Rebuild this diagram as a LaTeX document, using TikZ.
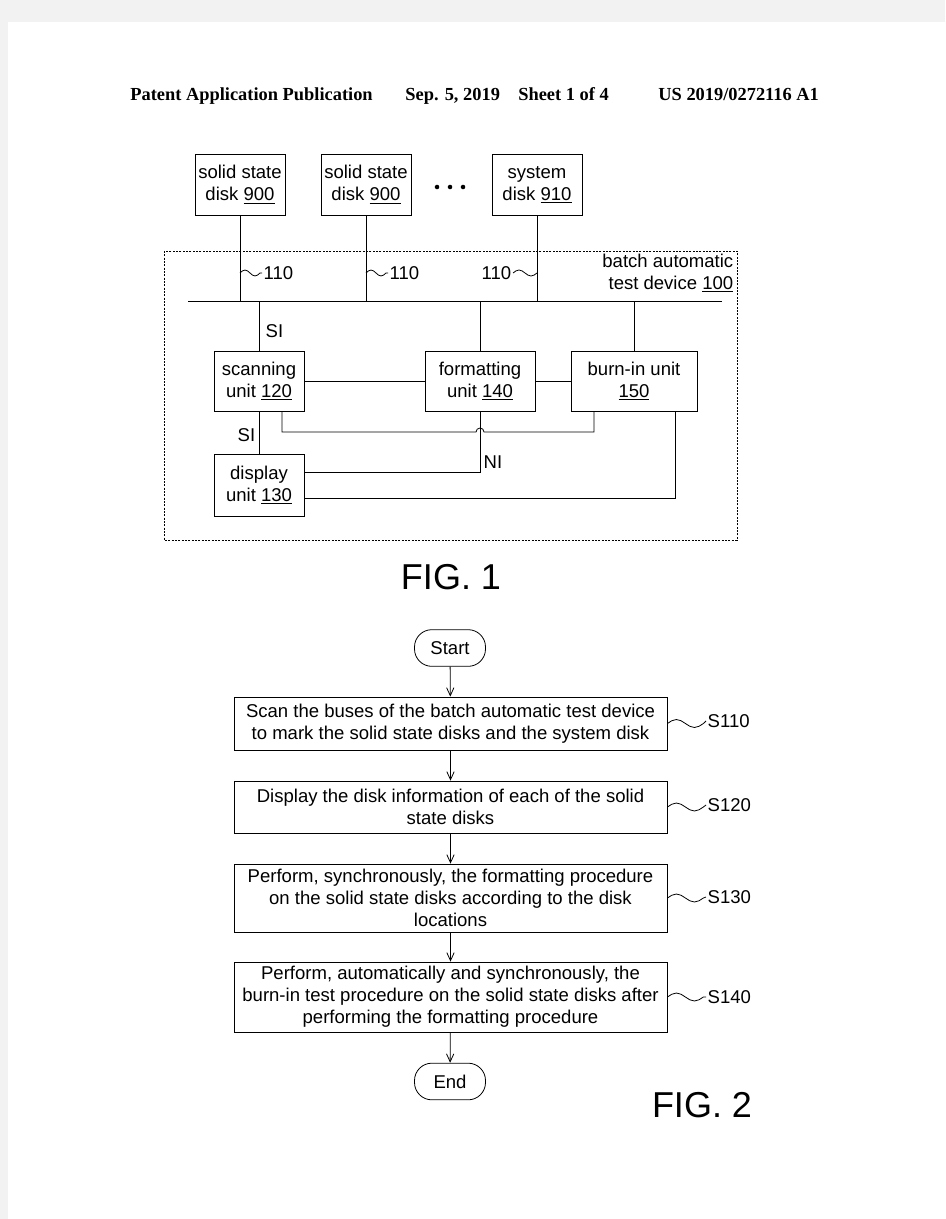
\documentclass[tikz,border=0pt]{standalone}
\usepackage{fontspec}
\setmainfont{Liberation Sans}
\newfontfamily\hdrfont{Liberation Serif}
\usetikzlibrary{arrows.meta}

\newcommand\boxfont{\fontsize{13.9}{16.5}\selectfont}
\newcommand\figfont{\fontsize{27}{30}\selectfont}

\begin{document}
\begin{tikzpicture}[x=0.75pt,y=-0.75pt,line width=0.6pt,
		box/.style={draw,align=center,inner sep=0pt,font=\boxfont},
		lbl/.style={inner sep=1pt,font=\boxfont},
		term/.style={box,rounded corners=13pt,minimum width=53.25pt,minimum height=27.5pt},
		stepbox/.style={box,minimum width=324.75pt},
		flow/.style={-{Straight Barb[length=6pt,width=5.5pt]}}
	]
	\useasboundingbox (0,0) rectangle (945,1219);
	\fill[white] (0,0) rectangle (945,1219);
	\fill[black!5] (0,0) rectangle (945,22);
	\fill[black!5] (0,0) rectangle (8,1219);
	
	% header
	\node [anchor=base west, inner sep=0pt, font=\hdrfont\bfseries\fontsize{13.8}{15}\selectfont] (hdrA) at (130,101) {Patent Application Publication};
	\node [anchor=base west, inner sep=0pt, font=\hdrfont\bfseries\fontsize{13.8}{15}\selectfont] (hdrB) at (405,101) {Sep. 5, 2019\quad Sheet 1 of 4};
	\node [anchor=base west, inner sep=0pt, font=\hdrfont\bfseries\fontsize{13.8}{15}\selectfont] (hdrC) at (658,101) {US 2019/0272116 A1};
	
	% FIG. 1
	\node [box, minimum width=67.5pt, minimum height=45.75pt] (ssdA) at (240,184.5) {solid state\\disk \underline{900}};
	\node [box, minimum width=67.5pt, minimum height=45.75pt] (ssdB) at (366,184.5) {solid state\\disk \underline{900}};
	\node [box, minimum width=67.5pt, minimum height=45.75pt] (sysdisk) at (537,184.5) {system\\disk \underline{910}};
	\fill (437,187) circle [radius=1.7pt];
	\fill (450,187) circle [radius=1.7pt];
	\fill (463,187) circle [radius=1.7pt];
	
	\draw [dash pattern=on 1.5pt off 1pt, line width=0.5pt] (164,251) rectangle (737,540);
	\node [lbl, anchor=east, align=right] (device) at (735,273) {batch automatic\\test device \underline{100}};
	
	\coordinate (busL) at (188,301);
	\coordinate (busR) at (722,301);
	\draw (busL) -- (busR);
	\draw (ssdA) -- (ssdA |- busL);
	\draw (ssdB) -- (ssdB |- busL);
	\draw (sysdisk) -- (sysdisk |- busL);
	
	\node [lbl, anchor=west] (busA) at (262,273) {110};
	\node [lbl, anchor=west] (busB) at (388,273) {110};
	\node [lbl, anchor=east] (busC) at (513,273) {110};
	\draw (ssdA |- busA) sin ++(5,-3) cos ++(5,3) sin ++(5,3) cos ++(5,-3) -- (busA.west);
	\draw (ssdB |- busB) sin ++(5,-3) cos ++(5,3) sin ++(5,3) cos ++(5,-3) -- (busB.west);
	\draw (busC.east) sin ++(6,-3) cos ++(6,3) sin ++(6,3) cos ++(6,-3) -- (sysdisk |- busC);
	
	\node [box, minimum width=67.5pt, minimum height=45pt] (scan) at (259,381) {scanning\\unit \underline{120}};
	\node [box, minimum width=82.5pt, minimum height=45pt] (fmt) at (480,381) {formatting\\unit \underline{140}};
	\node [box, minimum width=94.5pt, minimum height=45pt] (burn) at (634,381) {burn-in unit\\\underline{150}};
	\node [box, minimum width=67.5pt, minimum height=46.5pt] (disp) at (259,485) {display\\unit \underline{130}};
	
	\draw (scan) -- (scan |- busL);
	\draw (fmt) -- (fmt |- busL);
	\draw (burn) -- (burn |- busL);
	\draw (scan) -- (fmt);
	\draw (fmt) -- (burn);
	\draw (scan) -- (disp);
	\node [lbl, anchor=west] (siA) at (264,331) {SI};
	\node [lbl, anchor=west] (siB) at (236,435) {SI};
	
	\coordinate (hop) at (476,432);
	\draw ([xshift=17.25pt]scan.south) |- (hop) arc [start angle=180, end angle=0, radius=3pt] -| ([xshift=-30pt]burn.south);
	\draw (fmt.south) |- ([yshift=9.75pt]disp.east);
	\draw ([xshift=30.75pt]burn.south) |- ([yshift=-9.75pt]disp.east);
	\node [lbl, anchor=west] (ni) at (482,462) {NI};
	
	\node [font=\figfont] (figA) at (451,577) {FIG. 1};
	
	% FIG. 2
	\node [term] (start) at (450,648) {Start};
	\node [stepbox, minimum height=39.75pt] (sA) at (450.5,723.5) {Scan the buses of the batch automatic test device\\to mark the solid state disks and the system disk};
	\node [stepbox, minimum height=39pt] (sB) at (450.5,807) {Display the disk information of each of the solid\\state disks};
	\node [stepbox, minimum height=51pt] (sC) at (450.5,898) {Perform, synchronously, the formatting procedure\\on the solid state disks according to the disk\\locations};
	\node [stepbox, minimum height=52.5pt] (sD) at (450.5,997) {Perform, automatically and synchronously, the\\burn-in test procedure on the solid state disks after\\performing the formatting procedure};
	\node [term] (end) at (450,1081.5) {End};
	
	\draw [flow] (start) -- (sA);
	\draw [flow] (sA) -- (sB);
	\draw [flow] (sB) -- (sC);
	\draw [flow] (sC) -- (sD);
	\draw [flow] (sD) -- (end);
	
	\node [lbl, anchor=west] (lA) at (706,721) {S110};
	\node [lbl, anchor=west] (lB) at (706,805) {S120};
	\node [lbl, anchor=west] (lC) at (706,897) {S130};
	\node [lbl, anchor=west] (lD) at (706,997) {S140};
	\draw (sA.east) sin ++(9,-4) cos ++(9,4) sin ++(9,4) cos ++(9,-4) -- (lA.west);
	\draw (sB.east) sin ++(9,-4) cos ++(9,4) sin ++(9,4) cos ++(9,-4) -- (lB.west);
	\draw (sC.east) sin ++(9,-4) cos ++(9,4) sin ++(9,4) cos ++(9,-4) -- (lC.west);
	\draw (sD.east) sin ++(9,-4) cos ++(9,4) sin ++(9,4) cos ++(9,-4) -- (lD.west);
	
	\node [font=\figfont] (figB) at (702,1105) {FIG. 2};
\end{tikzpicture}
\end{document}
